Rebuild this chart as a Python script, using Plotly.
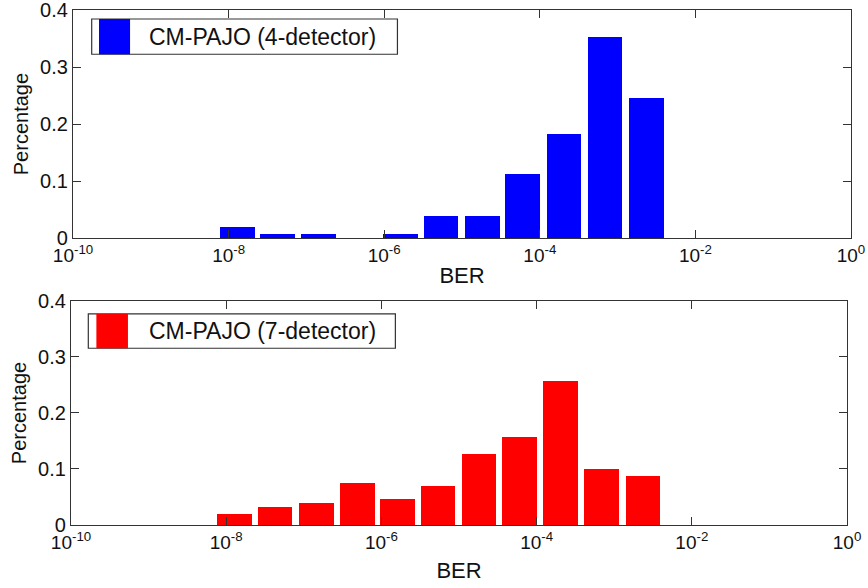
import plotly.graph_objects as go

# BER bin centres (log10 of BER) and histogram values
ber_exp = [-7.89, -7.37, -6.84, -6.31, -5.79, -5.27, -4.74, -4.22, -3.69, -3.16, -2.63]
pct_4det = [0.020, 0.007, 0.007, 0.0, 0.007, 0.039, 0.039, 0.113, 0.182, 0.352, 0.245]
pct_7det = [0.019, 0.033, 0.039, 0.075, 0.046, 0.069, 0.126, 0.157, 0.257, 0.100, 0.088]
name_4det = "CM-PAJO (4-detector)"
name_7det = "CM-PAJO (7-detector)"
x_tick_exp = [-10, -8, -6, -4, -2, 0]
x_tick_text = ["10<sup>%d</sup>" % e for e in x_tick_exp]
y_ticks = [0, 0.1, 0.2, 0.3, 0.4]
y_tick_text = ["0", "0.1", "0.2", "0.3", "0.4"]

FONT = "Arial, Liberation Sans, sans-serif"
AX = "#333333"
BAR_W = 0.446

fig = go.Figure()
fig.add_trace(go.Bar(x=ber_exp, y=pct_4det, width=BAR_W, marker=dict(color="#0000FF", line=dict(width=0)),
                     name=name_4det, xaxis="x", yaxis="y", showlegend=False))
fig.add_trace(go.Bar(x=ber_exp, y=pct_7det, width=BAR_W, marker=dict(color="#FF0000", line=dict(width=0)),
                     name=name_7det, xaxis="x2", yaxis="y2", showlegend=False))

def xax(domain, anchor, standoff):
    return dict(domain=domain, anchor=anchor, range=[-10, 0], tickmode="array", automargin=False,
                tickvals=x_tick_exp, ticktext=x_tick_text, ticks="inside", ticklen=8,
                ticklabeloverflow="allow",
                tickcolor=AX, showline=True, linecolor=AX, linewidth=1.3, mirror="ticks",
                showgrid=False, zeroline=False, tickfont=dict(size=19, color="#111"),
                title=dict(text="BER", font=dict(size=22, color="#111"), standoff=standoff))

def yax(domain, anchor):
    return dict(domain=domain, anchor=anchor, range=[0, 0.4], tickmode="array", automargin=False,
                tickvals=y_ticks, ticktext=y_tick_text, ticks="inside", ticklen=8,
                ticklabeloverflow="allow",
                tickcolor=AX, showline=True, linecolor=AX, linewidth=1.3, mirror="ticks",
                showgrid=False, zeroline=False, tickfont=dict(size=20, color="#111"),
                title=dict(text="Percentage", font=dict(size=20, color="#111"), standoff=6))

fig.update_layout(
    width=868, height=588, margin=dict(l=71, r=17, t=10, b=63),
    paper_bgcolor="white", plot_bgcolor="white", font=dict(family=FONT, color="#111"),
    bargap=0, showlegend=False,
    xaxis=xax([0.0026, 1.0], "y", 2),
    yaxis=yax([0.557, 1.0], "x"),
    xaxis2=xax([0.0, 0.9949], "y2", 10),
    yaxis2=yax([0.0, 0.435], "x2"),
)

# legend boxes (MATLAB style)
legends = [
    ("x domain", "y domain", name_4det, "#0000FF", (0.024, 0.417, 0.806, 0.9605), (0.0334, 0.0733), 0.0947),
    ("x2 domain", "y2 domain", name_7det, "#FF0000", (0.0223, 0.418, 0.789, 0.942), (0.0327, 0.0734), 0.0975),
]
for xr, yr, txt, col, (x0, x1, y0, y1), (sx0, sx1), tx in legends:
    fig.add_shape(type="rect", xref=xr, yref=yr, x0=x0, x1=x1, y0=y0, y1=y1,
                  line=dict(color=AX, width=1.2), fillcolor="white")
    fig.add_shape(type="rect", xref=xr, yref=yr, x0=sx0, x1=sx1, y0=y0, y1=y1,
                  line=dict(width=0), fillcolor=col)
    fig.add_annotation(xref=xr, yref=yr, x=tx, y=(y0 + y1) / 2, text=txt, showarrow=False,
                       xanchor="left", yanchor="middle", font=dict(size=23, color="#111"))

fig.write_html("out.html")
